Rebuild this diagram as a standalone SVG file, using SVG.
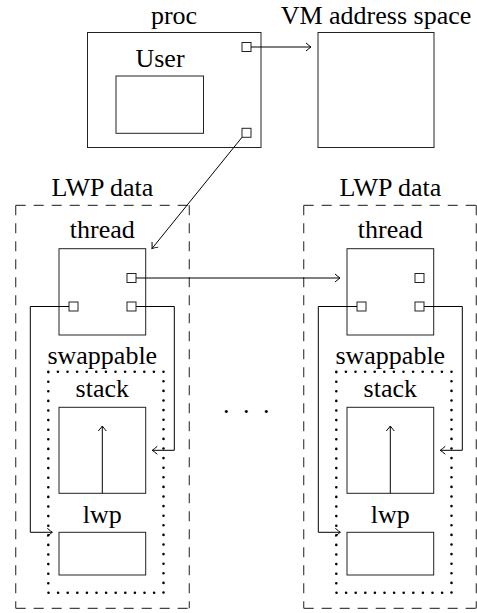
<svg xmlns="http://www.w3.org/2000/svg" width="477" height="613" viewBox="0 0 477 613">
<style>
  .box { fill: none; stroke: #222; stroke-width: 1; }
  .sq { fill: #fff; stroke: #222; stroke-width: 1; }
  .dash { fill: none; stroke: #444; stroke-width: 1.2; stroke-dasharray: 10 8; }
  .dot { fill: none; stroke: #000; stroke-width: 2.6; stroke-linecap: round; stroke-dasharray: 0 9.6; }
  .lbl { font-family: "Liberation Serif", serif; font-size: 26px; fill: #000; text-anchor: middle; }
  .dots { font-family: "Liberation Serif", serif; font-size: 26px; fill: #000; }
  .con { fill: none; stroke: #000; stroke-width: 1; marker-end: url(#arr); }
</style>
<defs>
  <marker id="arr" markerUnits="userSpaceOnUse" markerWidth="12" markerHeight="12" refX="0" refY="0" viewBox="-7 -6 8 12" orient="auto" overflow="visible">
    <path d="M -5 -4 Q -1.5 -1 0 0 Q -1.5 1 -5 4" fill="none" stroke="#000" stroke-width="1"/>
  </marker>
</defs>
<rect width="477" height="613" fill="#fff"/>

<g id="proc">
  <rect class="box" x="87.5" y="32.5" width="173.5" height="115"/>
  <text class="lbl" x="174" y="24">proc</text>
  <rect class="sq" x="242" y="42.5" width="9" height="9"/>
  <rect class="sq" x="242" y="128.3" width="9" height="9"/>
</g>
<g id="user">
  <rect class="box" x="116" y="76" width="87.5" height="57.3"/>
  <text class="lbl" x="160" y="67">User</text>
</g>
<g id="vm">
  <rect class="box" x="318" y="32.5" width="116" height="115"/>
  <text class="lbl" x="376" y="24">VM address space</text>
</g>

<g id="lwpdata1">
  <path class="dash" d="M15.7 205.3 H189.3 M15.7 205.3 V608.3 M15.7 608.3 H189.3 M189.3 205.3 V608.3"/>
  <text class="lbl" x="102.5" y="196">LWP data</text>
</g>
<g id="thread1">
  <rect class="box" x="59" y="248.7" width="86.7" height="86.3"/>
  <text class="lbl" x="102.3" y="238">thread</text>
  <rect class="sq" x="127" y="273.5" width="9" height="9"/>
  <rect class="sq" x="69" y="302" width="9" height="9"/>
  <rect class="sq" x="127" y="302" width="9" height="9"/>
</g>
<g id="swappable1">
  <path class="dot" d="M48.3 371.7 H163.5 V592.7 H48.3 Z"/>
  <text class="lbl" x="102.3" y="363.5">swappable</text>
</g>
<g id="stack1">
  <rect class="box" x="59" y="407.3" width="86.7" height="86"/>
  <text class="lbl" x="102.3" y="396.7">stack</text>
</g>
<g id="lwp1">
  <rect class="box" x="59" y="532.3" width="86.7" height="42.7"/>
  <text class="lbl" x="102.3" y="522.7">lwp</text>
</g>

<g id="lwpdata2">
  <path class="dash" d="M303.7 205.3 H476.3 M303.7 205.3 V608.3 M303.7 608.3 H476.3 M476.3 205.3 V608.3"/>
  <text class="lbl" x="390.5" y="196">LWP data</text>
</g>
<g id="thread2">
  <rect class="box" x="347" y="248.7" width="86.7" height="86.3"/>
  <text class="lbl" x="390.3" y="238">thread</text>
  <rect class="sq" x="415" y="273.5" width="9" height="9"/>
  <rect class="sq" x="357" y="302" width="9" height="9"/>
  <rect class="sq" x="415" y="302" width="9" height="9"/>
</g>
<g id="swappable2">
  <path class="dot" d="M336.3 371.7 H451.5 V592.7 H336.3 Z"/>
  <text class="lbl" x="390.3" y="363.5">swappable</text>
</g>
<g id="stack2">
  <rect class="box" x="347" y="407.3" width="86.7" height="86"/>
  <text class="lbl" x="390.3" y="396.7">stack</text>
</g>
<g id="lwp2">
  <rect class="box" x="347" y="532.3" width="86.7" height="42.7"/>
  <text class="lbl" x="390.3" y="522.7">lwp</text>
</g>

<g id="ellipsis">
  <text class="dots" x="222.9 242.9 262.9" y="412.8">...</text>
</g>

<g id="connectors">
  <path class="con" d="M251 47 H311"/>
  <path class="con" d="M242 137.3 L152 248.5"/>
  <path class="con" d="M136 278 H340"/>
  <path class="con" d="M69 306.5 H30.3 V532.3 H52.3"/>
  <path class="con" d="M136 306.5 H174.3 V450.3 H152.3"/>
  <path class="con" d="M102.3 493.3 V426"/>
  <path class="con" d="M357 306.5 H318.3 V532.3 H340.3"/>
  <path class="con" d="M424 306.5 H462.3 V450.3 H440.3"/>
  <path class="con" d="M390.3 493.3 V426"/>
</g>
</svg>
